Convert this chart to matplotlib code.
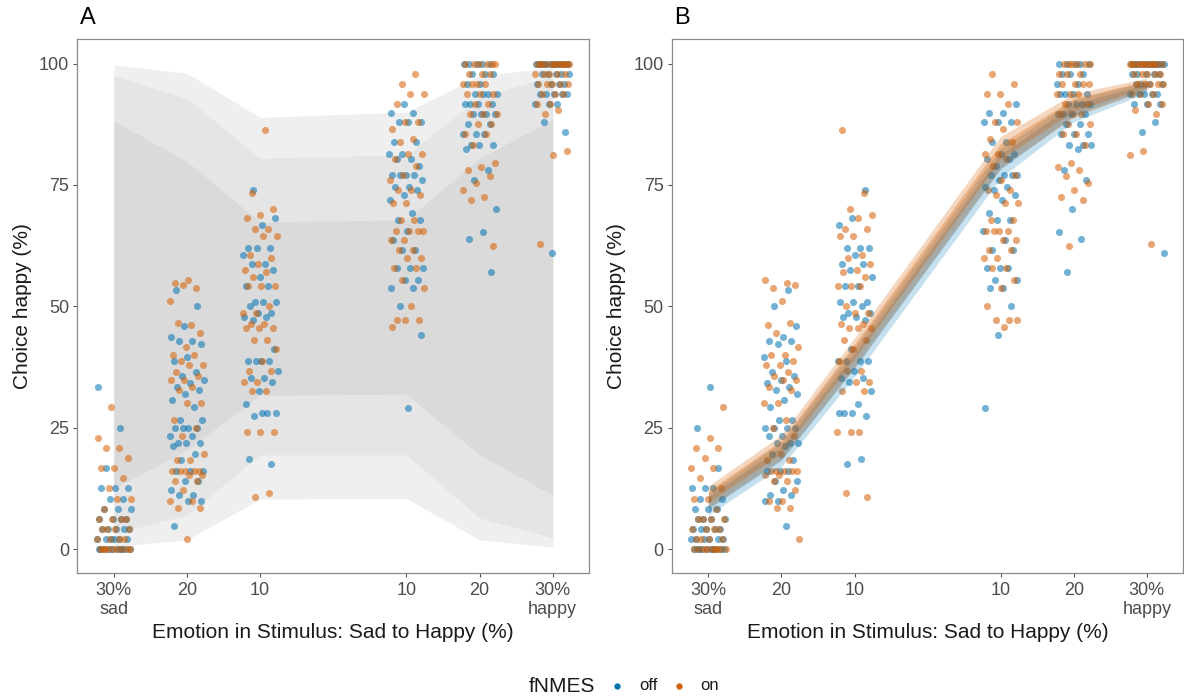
import numpy as np
import matplotlib
matplotlib.use("Agg")
import matplotlib.pyplot as plt
from matplotlib.lines import Line2D

plt.rcParams['font.family'] = ['Liberation Sans', 'DejaVu Sans']

# ---------------- data ----------------
x_levels = [-30, -20, -10, 10, 20, 30]
x_ticklabels = ['30%\nsad', '20', '10', '10', '20', '30%\nhappy']
y_ticks = [0, 25, 50, 75, 100]

# observed choice happy (%) per participant, fNMES off
off_m30 = [33.3, 25.0, 16.7, 12.5, 12.5, 12.5, 10.4, 10.4, 8.3, 8.3, 8.3, 6.25, 6.25, 6.25, 6.25,
           4.17, 4.17, 4.17, 4.17, 4.17, 2.08, 2.08, 2.08, 2.08, 2.08, 2.08,
           0, 0, 0, 0, 0, 0, 0, 0, 0, 0]
off_m20 = [53.3, 50.0, 46.0, 43.7, 42.8, 42.8, 42.2, 39.5, 38.7, 36.5, 35.6, 34.8, 34.1, 33.3, 32.7,
           31.9, 30.7, 29.2, 26.6, 26.6, 25.0, 25.0, 25.0, 25.0, 23.2, 23.2, 21.8, 21.8, 21.8, 21.3,
           19.6, 18.3, 16.1, 16.1, 16.1, 14.0, 14.0, 12.2, 11.1, 11.1, 9.9, 9.9, 4.7]
off_m10 = [73.9, 68.2, 66.7, 62.0, 62.0, 62.0, 60.5, 58.7, 58.7, 57.5, 56.0, 54.2, 54.2, 50.9, 50.9,
           50.9, 50.0, 48.6, 48.6, 47.8, 47.8, 47.2, 41.2, 38.7, 38.7, 38.7, 38.7, 36.7, 35.2, 35.2,
           34.4, 32.5, 29.9, 28.0, 27.4, 28.0, 28.0, 18.5, 17.5]
off_p10 = [91.6, 89.8, 89.8, 87.9, 87.9, 87.9, 83.9, 83.9, 81.4, 81.4, 80.3, 80.3, 78.9, 77.0, 77.0,
           77.0, 77.0, 76.0, 74.5, 74.5, 73.9, 72.9, 71.9, 69.2, 67.8, 67.8, 65.5, 63.6, 61.6, 61.6,
           57.9, 57.9, 57.9, 55.4, 55.4, 53.8, 53.8, 50.0, 44.1, 29.1]
off_p20 = [100, 100, 100, 100, 100, 97.9, 97.9, 97.9, 95.8, 95.8, 93.75, 93.75, 93.75, 93.75,
           91.7, 91.7, 91.7, 91.7, 89.6, 89.6, 89.6, 89.6, 87.5, 87.5, 85.4, 85.4, 85.4,
           83.3, 83.3, 83.3, 82.5, 78.1, 76.0, 70.0, 65.4, 63.9, 57.1]
off_p30 = [100, 100, 100, 100, 100, 100, 100, 100, 100, 100, 100, 100, 100, 97.9, 97.9, 97.9, 97.9,
           97.9, 95.8, 95.8, 95.8, 95.8, 93.75, 93.75, 93.75, 93.75, 93.75, 91.7, 91.7, 91.7,
           88.0, 86.0, 60.9]

# observed choice happy (%) per participant, fNMES on
on_m30 = [29.2, 22.9, 20.8, 20.8, 18.75, 16.7, 16.7, 14.6, 12.5, 10.4, 10.4, 8.3, 6.25, 6.25, 6.25,
          6.25, 4.17, 4.17, 4.17, 4.17, 2.08, 2.08, 2.08, 2.08, 0, 0, 0, 0, 0, 0, 0, 0, 0]
on_m20 = [55.4, 54.8, 53.8, 54.4, 51.1, 46.1, 46.5, 44.4, 41.7, 40.0, 40.0, 38.7, 37.9, 37.9, 36.5,
          35.6, 34.8, 34.8, 33.3, 32.7, 30.0, 30.0, 26.6, 25.0, 23.2, 19.6, 18.3, 18.3, 16.1, 16.1,
          16.1, 16.1, 16.1, 15.2, 15.2, 14.0, 14.0, 12.2, 9.9, 9.9, 8.4, 8.4, 2.1]
on_m10 = [86.4, 73.3, 70.0, 68.8, 68.2, 65.9, 65.9, 64.5, 64.5, 60.5, 60.0, 58.7, 57.5, 57.0, 56.0,
          54.2, 54.2, 54.2, 50.0, 48.6, 48.6, 46.3, 46.3, 45.5, 45.5, 45.5, 43.0, 43.0, 41.2, 38.7,
          36.7, 36.7, 34.4, 34.4, 32.5, 32.5, 24.2, 24.2, 24.2, 11.5, 10.7]
on_p10 = [97.8, 95.8, 93.8, 93.8, 91.6, 87.9, 87.9, 86.5, 84.5, 83.9, 81.4, 81.4, 80.3, 78.9, 77.0,
          76.0, 73.9, 73.9, 72.9, 71.3, 71.3, 67.8, 67.8, 65.5, 65.5, 65.5, 65.5, 63.6, 63.6, 61.6,
          61.6, 60.0, 60.0, 57.9, 57.9, 55.4, 53.8, 50.0, 47.2, 47.2, 47.2, 45.7]
on_p20 = [100, 100, 100, 100, 100, 100, 97.9, 97.9, 97.9, 95.8, 95.8, 95.8, 95.8, 93.75, 93.75,
          93.75, 91.7, 91.7, 89.6, 89.6, 89.6, 87.5, 87.5, 85.4, 85.4, 83.3, 79.6, 78.6, 78.1,
          76.8, 75.5, 73.9, 72.6, 72.0, 62.4]
on_p30 = [100, 100, 100, 100, 100, 100, 100, 100, 100, 100, 100, 100, 97.9, 97.9, 97.9, 97.9, 97.9,
          95.8, 95.8, 95.8, 95.8, 95.8, 93.75, 93.75, 93.75, 91.7, 91.7, 90.4, 89.6, 82.0, 81.2, 62.8]

# Panel A: prediction intervals (outer, middle, inner)
band_outer_lo = [0.5, 1.9, 10.3, 10.4, 1.9, 0.4]
band_outer_hi = [99.7, 98.0, 88.9, 90.0, 97.5, 99.2]
band_mid_lo = [3.2, 7.0, 19.4, 19.4, 6.4, 2.3]
band_mid_hi = [97.5, 92.8, 80.5, 81.2, 93.0, 97.5]
band_in_lo = [12.5, 20.4, 31.7, 31.9, 19.4, 11.1]
band_in_hi = [88.2, 79.8, 67.4, 67.8, 80.5, 88.5]

# Panel B: fitted curves (outer and core spread of posterior draws)
off_fit_lo = [7.0, 17.0, 35.5, 76.5, 88.0, 94.0]
off_fit_hi = [11.5, 22.0, 41.5, 82.5, 92.5, 96.3]
off_core_lo = [8.3, 18.3, 37.3, 78.3, 89.3, 94.7]
off_core_hi = [10.8, 21.0, 40.3, 81.3, 91.6, 95.8]
on_fit_lo = [8.5, 18.5, 37.5, 78.5, 89.0, 94.6]
on_fit_hi = [13.0, 23.5, 43.5, 85.0, 93.8, 97.0]
on_core_lo = [9.6, 19.8, 39.2, 80.3, 90.2, 95.1]
on_core_hi = [12.0, 22.4, 42.2, 83.5, 92.8, 96.5]

off_cols = [off_m30, off_m20, off_m10, off_p10, off_p20, off_p30]
on_cols = [on_m30, on_m20, on_m10, on_p10, on_p20, on_p30]

C_OFF = '#0072B2'
C_ON = '#D55E00'

W, H = 1184, 697
fig = plt.figure(figsize=(W / 100, H / 100), dpi=100)


def fx(px):
    return px / W


def fy(py):
    return 1 - py / H


ax_bottom = fy(573.3)
ax_h = 534 / H
axA = fig.add_axes([fx(77.3), ax_bottom, 512 / W, ax_h])
axB = fig.add_axes([fx(671.9), ax_bottom, 511.4 / W, ax_h])


def jitter(n, phase, width=2.4):
    k = np.arange(n)
    return ((k * 0.6180339887 + phase) % 1.0 - 0.5) * 2 * width


def draw_points(ax, phase):
    for ci, (xv, offv, onv) in enumerate(zip(x_levels, off_cols, on_cols)):
        xo = xv + jitter(len(offv), phase + 0.13 * ci)
        ax.scatter(xo, offv, s=26, color=C_OFF, alpha=0.55, linewidths=0, zorder=3)
        xn = xv + jitter(len(onv), phase + 0.37 + 0.11 * ci)
        ax.scatter(xn, onv, s=26, color=C_ON, alpha=0.55, linewidths=0, zorder=3)


def style(ax, tag):
    ax.set_xlim(-35, 35)
    ax.set_ylim(-5, 105)
    ax.set_xticks(x_levels)
    ax.set_xticklabels(x_ticklabels, linespacing=1.15)
    ax.set_yticks(y_ticks)
    ax.set_yticklabels([str(v) for v in y_ticks])
    for s in ax.spines.values():
        s.set_color('#8C8C8C')
        s.set_linewidth(0.9)
    ax.tick_params(axis='both', colors='#4D4D4D', labelsize=13, length=3, width=0.8, pad=3)
    ax.tick_params(axis='both', color='#555555')
    ax.set_xlabel('Emotion in Stimulus: Sad to Happy (%)', fontsize=15, color='#1A1A1A', labelpad=4)
    ax.set_ylabel('Choice happy (%)', fontsize=15, color='#1A1A1A', labelpad=5)
    ax.text(0.005, 1.02, tag, transform=ax.transAxes, fontsize=17, color='black',
            ha='left', va='bottom')


# Panel A
axA.fill_between(x_levels, band_outer_lo, band_outer_hi, color='#EFEFEF', lw=0, zorder=1)
axA.fill_between(x_levels, band_mid_lo, band_mid_hi, color='#E5E5E5', lw=0, zorder=1.1)
axA.fill_between(x_levels, band_in_lo, band_in_hi, color='#DADADA', lw=0, zorder=1.2)
draw_points(axA, 0.05)
style(axA, 'A')

# Panel B
draw_points(axB, 0.55)
axB.fill_between(x_levels, off_fit_lo, off_fit_hi, color=C_OFF, alpha=0.22, lw=0, zorder=4)
axB.fill_between(x_levels, off_core_lo, off_core_hi, color=C_OFF, alpha=0.25, lw=0, zorder=4.05)
axB.fill_between(x_levels, on_fit_lo, on_fit_hi, color=C_ON, alpha=0.25, lw=0, zorder=4.1)
axB.fill_between(x_levels, on_core_lo, on_core_hi, color=C_ON, alpha=0.3, lw=0, zorder=4.15)
style(axB, 'B')

# Legend
fig.text(fx(562), fy(686), 'fNMES', fontsize=15, color='#1A1A1A', ha='center', va='center')
fig.add_artist(Line2D([fx(617)], [fy(686)], marker='o', markersize=3.5, color=C_OFF,
                      linestyle='none', transform=fig.transFigure))
fig.text(fx(639), fy(686), 'off', fontsize=12, color='#1A1A1A', ha='left', va='center')
fig.add_artist(Line2D([fx(679)], [fy(686)], marker='o', markersize=3.5, color=C_ON,
                      linestyle='none', transform=fig.transFigure))
fig.text(fx(700), fy(686), 'on', fontsize=12, color='#1A1A1A', ha='left', va='center')

fig.savefig('out.png', dpi=100)
